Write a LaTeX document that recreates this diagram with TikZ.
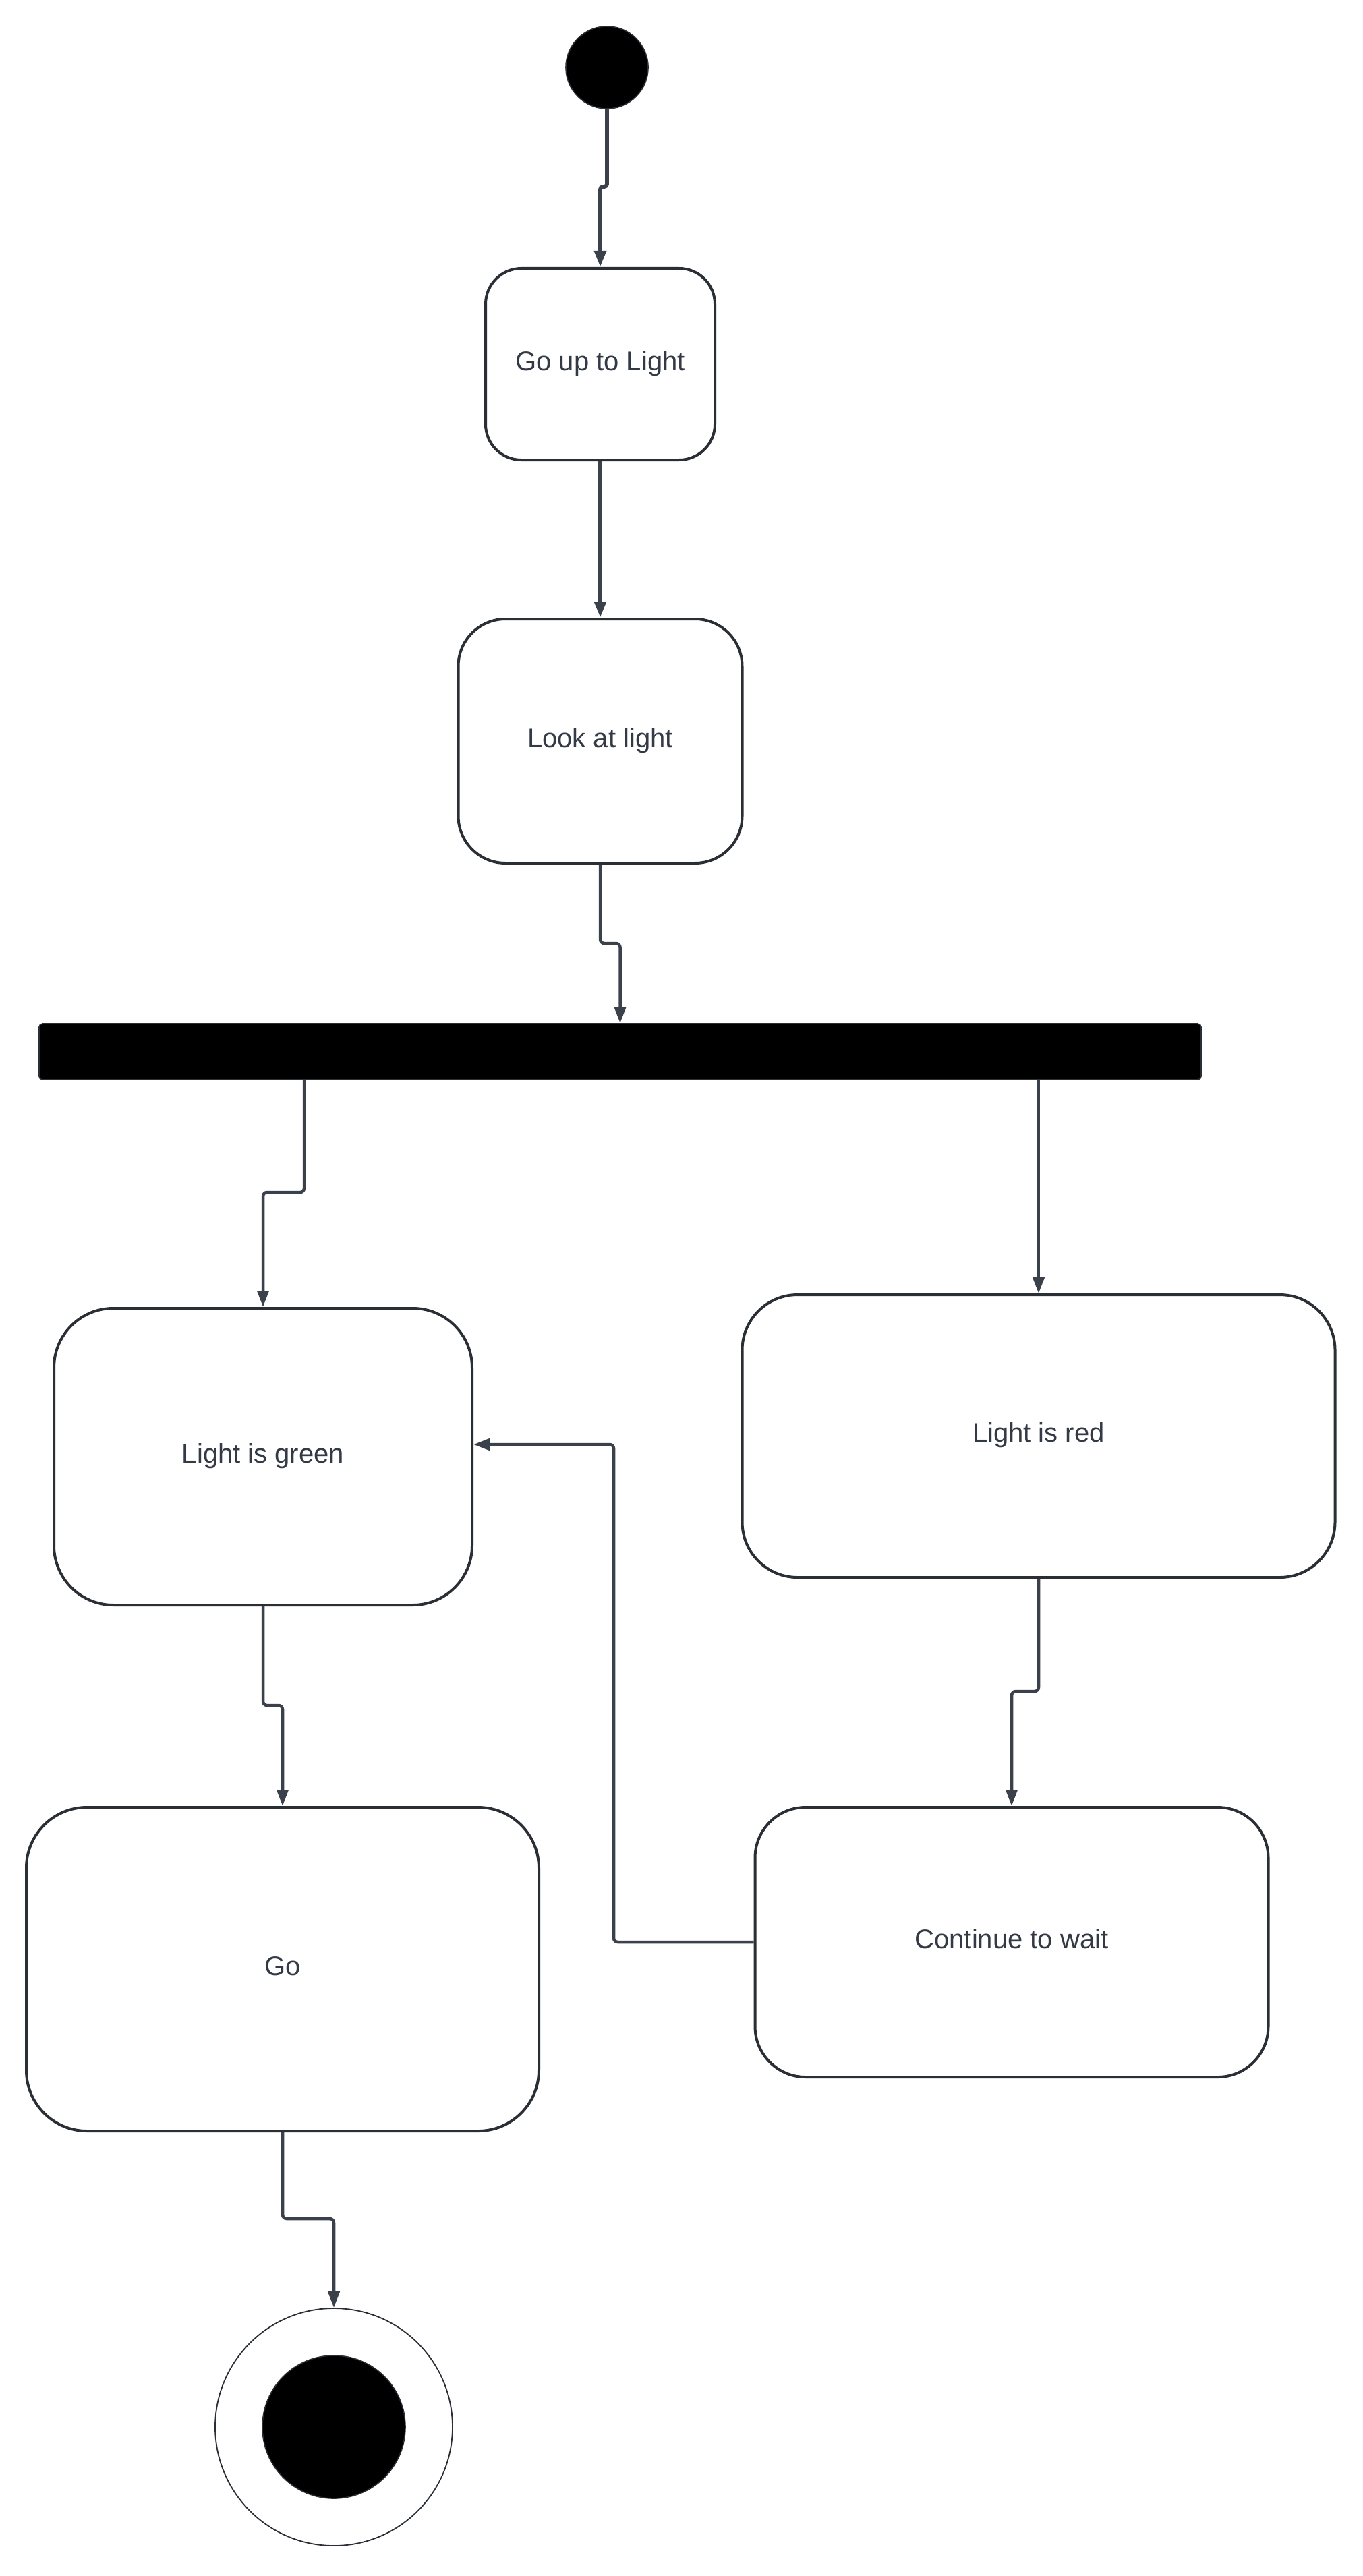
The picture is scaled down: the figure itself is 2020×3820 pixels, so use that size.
\documentclass[tikz,border=0pt]{standalone}
\usepackage{fontspec}
\setmainfont{Liberation Sans}
\usetikzlibrary{arrows.meta}
\definecolor{edgegray}{HTML}{3A414B}
\definecolor{boxline}{HTML}{2A2E35}
\definecolor{labelgray}{HTML}{333A45}
\begin{document}
\begin{tikzpicture}[x=0.5pt,y=-0.5pt,
  state/.style={draw=boxline, line width=2pt, fill=white, rectangle, inner sep=0pt,
    text=labelgray, font=\fontsize{20}{24}\selectfont, text height=9pt, text depth=0pt},
  flow/.style={draw=edgegray, line width=2.25pt, rounded corners=3pt,
    -{Triangle[length=12pt,width=8.5pt]}},
  thickflow/.style={flow, line width=2.9pt},
  dot/.style={circle, fill=black, draw=boxline, line width=0.8pt, inner sep=0pt},
]
\useasboundingbox (0,0) rectangle (2020,3820);

% start and end markers
\node[dot, minimum size=61pt] (start) at (900,100) {};
\node[circle, draw=boxline, line width=0.9pt, fill=white, inner sep=0pt, minimum size=176pt] (final) at (495,3599) {};
\node[dot, minimum size=106pt] (finaldot) at (495,3599) {};

% activity states
\node[state, minimum width=170pt, minimum height=142pt, rounded corners=26.5pt] (goup) at (890,540) {Go up to Light};
\node[state, minimum width=210.5pt, minimum height=181pt, rounded corners=35pt] (look) at (890,1099) {Look at light};
\node[state, minimum width=310pt, minimum height=220pt, rounded corners=44pt] (green) at (390,2160) {Light is green};
\node[state, minimum width=439.5pt, minimum height=209.5pt, rounded corners=41pt] (red) at (1540,2129.5) {Light is red};
\node[state, minimum width=380pt, minimum height=240pt, rounded corners=45pt] (gonode) at (419,2920) {Go};
\node[state, minimum width=380.5pt, minimum height=200pt, rounded corners=37.5pt] (wait) at (1500,2880) {Continue to wait};

% fork bar
\node[rectangle, fill=black, draw=boxline, line width=0.8pt, inner sep=0pt, rounded corners=2.5pt,
  minimum width=861.5pt, minimum height=41.5pt] (bar) at (919.5,1559.5) {};

% bend points of the connectors
\coordinate (j1) at (890,277);
\coordinate (j3) at (919.5,1399);
\coordinate (j4) at (451,1768);
\coordinate (j6) at (419,2529);
\coordinate (j7) at (1500,2508);
\coordinate (j8) at (910,2142);
\coordinate (j9) at (495,3290);

% transitions
\draw[thickflow, rounded corners=2pt] (start.south) |- (j1) -- (goup.north);
\draw[thickflow] (goup.south) -- (look.north);
\draw[flow] (look.south) |- (j3) -- (bar.north);
\draw[flow] (bar.south -| j4) -- (j4) -| (green.north);
\draw[flow] (bar.south -| red.north) -- (red.north);
\draw[flow] (green.south) |- (j6) -- (gonode.north);
\draw[flow] (red.south) |- (j7) -- (wait.north);
\draw[flow] (wait.west) -| (j8) -- (j8 -| green.east);
\draw[flow] (gonode.south) |- (j9) -- (final.north);
\end{tikzpicture}
\end{document}
